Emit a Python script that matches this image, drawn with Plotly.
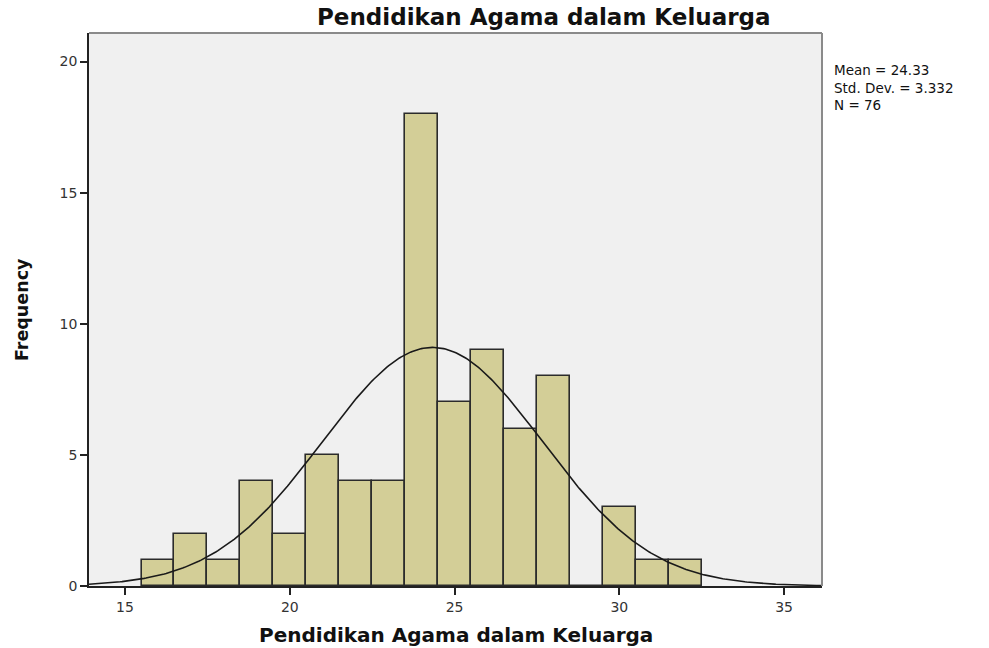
import numpy as np
import plotly.graph_objects as go

# Data
bin_centers = [16, 17, 18, 19, 20, 21, 22, 23, 24, 25, 26, 27, 28, 29, 30, 31, 32]
frequencies = [1, 2, 1, 4, 2, 5, 4, 4, 18, 7, 9, 6, 8, 0, 3, 1, 1]
stat_mean = 24.33
stat_sd = 3.332
stat_n = 76
bin_width = 1
x_ticks = [15, 20, 25, 30, 35]
y_ticks = [0, 5, 10, 15, 20]
title_text = "Pendidikan Agama dalam Keluarga"
x_title = "Pendidikan Agama dalam Keluarga"
y_title = "Frequency"

x_min, x_max = 13.907, 36.15
y_max = 21.09

# Fitted normal curve defined by the reported statistics
curve_x = np.linspace(x_min, x_max, 400)
curve_y = stat_n * bin_width / (stat_sd * np.sqrt(2 * np.pi)) * np.exp(-0.5 * ((curve_x - stat_mean) / stat_sd) ** 2)

font_family = "DejaVu Sans, Arial, sans-serif"

fig = go.Figure()
fig.add_trace(go.Bar(
    x=bin_centers, y=frequencies, width=bin_width,
    marker=dict(color="#D3CE97", line=dict(color="#2b2b2b", width=1.6)),
    hoverinfo="x+y", showlegend=False,
))
fig.add_trace(go.Scatter(
    x=curve_x, y=curve_y, mode="lines",
    line=dict(color="#1a1a1a", width=1.6), showlegend=False, hoverinfo="skip",
))

fig.update_layout(
    width=989, height=648,
    margin=dict(l=89, r=167, t=33, b=62),
    paper_bgcolor="white", plot_bgcolor="#F0F0F0",
    font=dict(family=font_family, color="#222"),
    bargap=0,
    xaxis=dict(
        range=[x_min, x_max], tickvals=x_ticks, ticks="outside", ticklen=7,
        tickwidth=1.5, tickcolor="#222", showline=True, linecolor="#222", linewidth=1.5,
        showgrid=False, zeroline=False, tickfont=dict(size=14, color="#333"),
        automargin=False,
    ),
    yaxis=dict(
        range=[0, y_max], tickvals=y_ticks, ticks="outside", ticklen=7,
        tickwidth=1.5, tickcolor="#222", showline=True, linecolor="#222", linewidth=1.5,
        showgrid=False, zeroline=False, tickfont=dict(size=14, color="#333"),
        automargin=False,
    ),
    shapes=[
        dict(type="line", xref="paper", yref="paper", x0=0, x1=1, y0=1, y1=1,
             line=dict(color="#8a8a8a", width=2)),
        dict(type="line", xref="paper", yref="paper", x0=1, x1=1, y0=0, y1=1,
             line=dict(color="#8a8a8a", width=2)),
    ],
    annotations=[
        dict(text="<b>" + title_text + "</b>", xref="paper", yref="paper",
             x=(544 - 89) / (822 - 89), y=1, yanchor="bottom", xanchor="center",
             yshift=1, showarrow=False, font=dict(size=23, color="#111")),
        dict(text="<b>" + x_title + "</b>", xref="paper", yref="paper",
             x=(456 - 89) / (822 - 89), y=0, yanchor="top", xanchor="center",
             yshift=-35, showarrow=False, font=dict(size=20, color="#111")),
        dict(text="<b>" + y_title + "</b>", xref="paper", yref="paper",
             x=0, y=(586 - 310) / (586 - 33), xanchor="center", yanchor="middle",
             xshift=-67, textangle=-90, showarrow=False, font=dict(size=17.5, color="#111")),
        dict(text=f"Mean = {stat_mean}<br>Std. Dev. = {stat_sd}<br>N = {stat_n}",
             xref="paper", yref="paper", x=1, y=(586 - 60) / (586 - 33),
             xanchor="left", yanchor="top", xshift=10, align="left", showarrow=False,
             font=dict(size=13.5, color="#111")),
    ],
)

fig.write_html("out.html", config={"displayModeBar": False},
               post_script="document.body.style.margin='0';")
